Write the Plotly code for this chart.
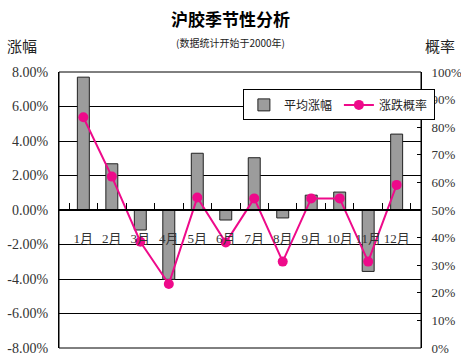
import plotly.graph_objects as go

months = ["1月", "2月", "3月", "4月", "5月", "6月", "7月", "8月", "9月", "10月", "11月", "12月"]
avg_change = [7.7, 2.68, -1.16, -4.02, 3.29, -0.58, 3.03, -0.46, 0.86, 1.04, -3.56, 4.4]   # 平均涨幅 (%)
up_prob = [83.6, 62.1, 38.5, 23.2, 54.5, 38.2, 54.2, 31.3, 54.2, 54.2, 31.3, 59.1]          # 涨跌概率 (%)

left_ticks = [-8, -6, -4, -2, 0, 2, 4, 6, 8]
left_labels = [f"{v:.2f}%" for v in left_ticks]
right_ticks = list(range(0, 101, 10))
right_labels = [f"{v}%" for v in right_ticks]

FONT_LATIN = "Liberation Serif, Noto Sans CJK SC"
FONT_CJK = "Noto Sans CJK SC"

ML, MR, MT, MB = 59, 40, 72, 13
W, H = 461, 361

fig = go.Figure()
fig.add_trace(go.Bar(
    x=months, y=avg_change, name="平均涨幅",
    marker=dict(color="#9c9c9c", line=dict(color="#222222", width=1)),
    width=0.42, yaxis="y",
))
fig.add_trace(go.Scatter(
    x=months, y=up_prob, name="涨跌概率", mode="lines+markers",
    line=dict(color="#ee0a8a", width=2),
    marker=dict(color="#ee0a8a", size=10),
    yaxis="y2",
))

fig.update_layout(
    width=W, height=H,
    margin=dict(l=ML, r=MR, t=MT, b=MB, autoexpand=False),
    paper_bgcolor="white", plot_bgcolor="white",
    showlegend=True,
    legend=dict(
        orientation="h", x=0.508, y=0.937, xanchor="left", yanchor="top",
        bgcolor="white", bordercolor="#000000", borderwidth=1,
        font=dict(family=FONT_CJK, size=12, color="#222"),
        itemwidth=30, tracegroupgap=0,
        entrywidth=50, entrywidthmode="pixels",
    ),
    xaxis=dict(
        type="category", anchor="free", position=0.5, automargin=False,
        showline=True, linecolor="#000", linewidth=1.5,
        ticks="inside", ticklen=6, tickcolor="#000", tickson="boundaries",
        ticklabelstandoff=17, tickangle=0,
        tickfont=dict(family=FONT_LATIN, size=13, color="#333"),
        showgrid=False, zeroline=False,
    ),
    yaxis=dict(
        range=[-8, 8], tickvals=left_ticks, ticktext=left_labels, automargin=False,
        showgrid=True, gridcolor="#000", gridwidth=1,
        zeroline=False, showline=True, linecolor="#000", linewidth=1,
        ticks="", ticklabelstandoff=7,
        tickfont=dict(family=FONT_LATIN, size=14, color="#333"),
    ),
    yaxis2=dict(
        range=[0, 100], tickvals=right_ticks, ticktext=right_labels, automargin=False,
        overlaying="y", side="right", showgrid=False, zeroline=False,
        showline=True, linecolor="#000", linewidth=1,
        ticks="inside", ticklen=4, tickcolor="#000", ticklabelstandoff=7,
        tickfont=dict(family=FONT_LATIN, size=13, color="#333"),
    ),
    shapes=[dict(type="rect", xref="paper", yref="paper", x0=0, x1=1, y0=0, y1=1,
                 line=dict(color="#000", width=1), layer="above")],
)


def px_ann(text, xpx, ypx, size, bold=False, color="#222"):
    """Place a text at figure pixel coordinates (origin top-left)."""
    plot_w, plot_h = W - ML - MR, H - MT - MB
    fig.add_annotation(
        text=f"<b>{text}</b>" if bold else text,
        x=(xpx - ML) / plot_w, y=(H - MB - ypx) / plot_h,
        xref="paper", yref="paper", showarrow=False,
        xanchor="center", yanchor="middle",
        font=dict(family=FONT_CJK, size=size, color=color),
    )


px_ann("沪胶季节性分析", 230, 18, 17, bold=True, color="#000")
px_ann("(数据统计开始于2000年)", 230, 43, 10)
px_ann("涨幅", 22, 45, 15)
px_ann("概率", 440, 45, 15)

fig.write_html("out.html")
